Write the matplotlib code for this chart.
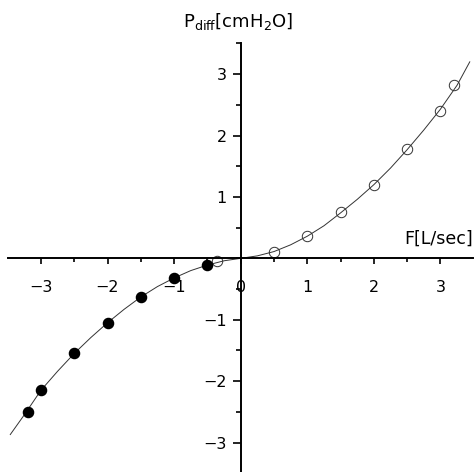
import matplotlib.pyplot as plt
import numpy as np
from matplotlib.ticker import MultipleLocator

# measured points: open circles (positive flow), filled (negative flow)
f_open = [-0.35, 0.5, 1.0, 1.5, 2.0, 2.5, 3.0, 3.2]
p_open = [-0.04, 0.10, 0.36, 0.75, 1.19, 1.78, 2.40, 2.83]
f_fill = [-0.5, -1.0, -1.5, -2.0, -2.5, -3.0, -3.2]
p_fill = [-0.11, -0.32, -0.63, -1.05, -1.55, -2.14, -2.50]

# fitted curve
f_curve = [-3.46, -3.25, -3.0, -2.75, -2.5, -2.25, -2.0, -1.75, -1.5, -1.25,
           -1.0, -0.75, -0.5, -0.25, 0.0, 0.25, 0.5, 0.75, 1.0, 1.25, 1.5,
           1.75, 2.0, 2.25, 2.5, 2.75, 3.0, 3.25, 3.44]
p_curve = [-2.87, -2.55, -2.15, -1.84, -1.55, -1.29, -1.05, -0.83, -0.63, -0.46,
           -0.32, -0.20, -0.11, -0.04, 0.0, 0.04, 0.11, 0.22, 0.36, 0.53, 0.74,
           0.96, 1.20, 1.47, 1.77, 2.09, 2.43, 2.82, 3.20]

xticks = [-3, -2, -1, 0, 1, 2, 3]
yticks = [-3, -2, -1, 1, 2, 3]

fig = plt.figure(figsize=(4.76, 4.72), dpi=100)
ax = fig.add_axes([0.0174, 0.0, 0.9765, 0.908])
ax.set_xlim(-3.49, 3.49)
ax.set_ylim(-3.48, 3.50)

ax.plot(f_curve, p_curve, color='#333333', lw=0.7)
ax.plot(f_open, p_open, 'o', ms=7.5, mfc='none', mec='#333333', mew=0.7)
ax.plot(f_fill, p_fill, 'o', ms=7.3, color='black')

# axes crossing at the origin
ax.spines['left'].set_position(('data', 0))
ax.spines['bottom'].set_position(('data', 0))
ax.spines['top'].set_visible(False)
ax.spines['right'].set_visible(False)
ax.spines['left'].set_linewidth(1.4)
ax.spines['bottom'].set_linewidth(1.4)

ax.set_xticks(xticks)
ax.set_xticklabels(['\u22123', '\u22122', '\u22121', '0', '1', '2', '3'])
ax.set_yticks(yticks)
ax.set_yticklabels(['\u22123', '\u22122', '\u22121', '1', '2', '3'])
ax.xaxis.set_minor_locator(MultipleLocator(0.5))
ax.yaxis.set_minor_locator(MultipleLocator(0.5))
ax.tick_params(axis='x', which='major', direction='out', length=4.5, width=1.2,
               labelsize=11.5, pad=11)
ax.tick_params(axis='x', which='minor', direction='out', length=3, width=1.2)
ax.tick_params(axis='y', which='major', direction='out', length=6, width=1.2,
               labelsize=11.5, pad=4)
ax.tick_params(axis='y', which='minor', direction='out', length=3.6, width=1.2)

fig.text(183 / 476, 1 - 22 / 472, r'P$_{\rm diff}$[cmH$_2$O]', fontsize=13,
         ha='left', va='center')
fig.text(473 / 476, 1 - 239 / 472, 'F[L/sec]', fontsize=12.5,
         ha='right', va='center')

fig.savefig('out.png', dpi=100)
